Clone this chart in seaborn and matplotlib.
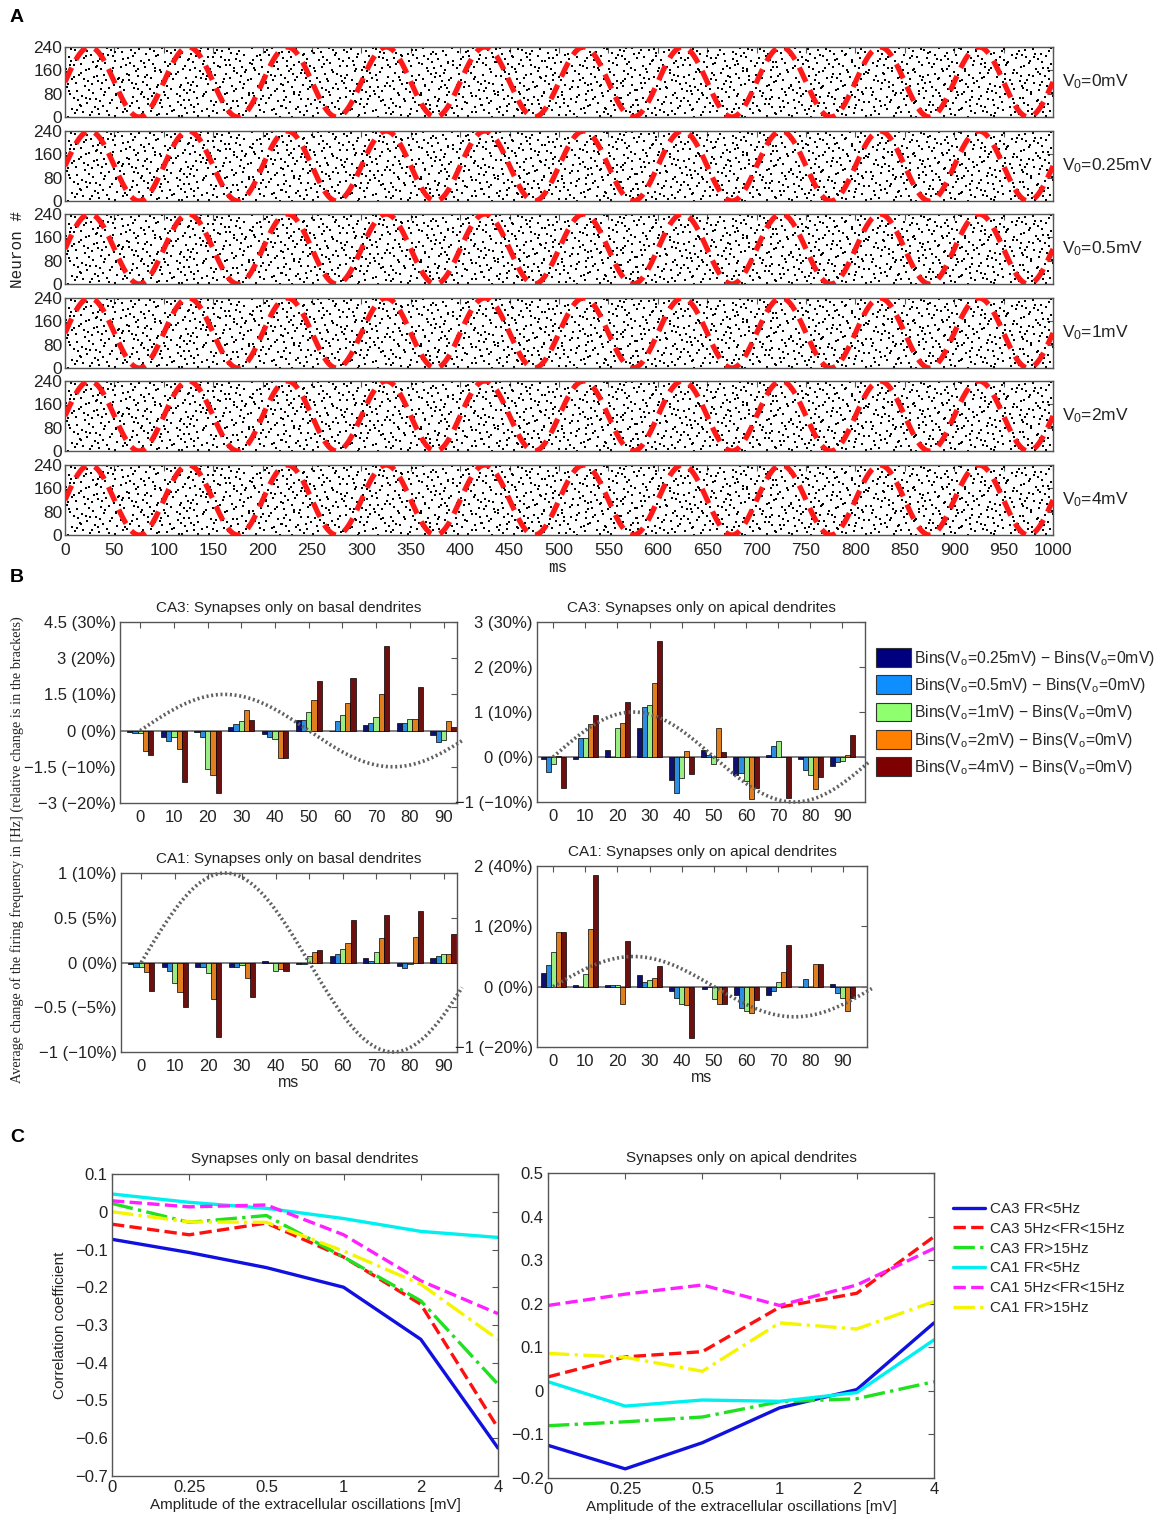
import numpy as np
import pandas as pd
import matplotlib
matplotlib.use("Agg")
import matplotlib.pyplot as plt
import seaborn as sns
from matplotlib.patches import Patch
from matplotlib.lines import Line2D

# ---------------- data ----------------
# panel A
amplitudes_A = ["0", "0.25", "0.5", "1", "2", "4"]
osc_period_ms = 100.0      # red reference oscillation (10 Hz)
osc_center = 120.0
osc_amp = 120.0
n_spikes = 1750            # spike raster is illustrative only

# panel B: bin times and five difference series per subplot
bin_ms = [0, 10, 20, 30, 40, 50, 60, 70, 80, 90]
series_B = ["0.25", "0.5", "1", "2", "4"]

ca3_basal = {
    "0.25": [-0.07, -0.27, -0.07, 0.16, -0.16, 0.45, 0.0, 0.23, 0.31, -0.20],
    "0.5":  [-0.10, -0.44, -0.27, 0.27, -0.25, 0.45, 0.41, 0.31, 0.31, -0.48],
    "1":    [-0.10, -0.27, -1.61, 0.38, -0.34, 0.79, 0.64, 0.57, 0.48, -0.41],
    "2":    [-0.86, -0.75, -1.84, 0.86, -1.13, 1.25, 1.13, 1.50, 0.50, 0.41],
    "4":    [-1.02, -2.11, -2.59, 0.44, -1.13, 2.05, 2.18, 3.50, 1.80, 0.14],
}
ca3_apical = {
    "0.25": [-0.04, -0.04, 0.16, 0.64, -0.52, 0.16, -0.39, 0.04, -0.04, -0.20],
    "0.5":  [-0.34, 0.42, 0.0, 1.12, -0.81, 0.04, -0.35, 0.24, -0.28, -0.10],
    "1":    [-0.16, 0.42, 0.64, 1.15, -0.46, -0.15, -0.54, 0.36, -0.40, -0.08],
    "2":    [0.03, 0.74, 0.76, 1.65, 0.14, 0.65, -0.94, 0.0, -0.72, 0.04],
    "4":    [-0.68, 0.93, 1.23, 2.57, -0.37, 0.11, -0.68, -0.90, -0.45, 0.50],
}
ca1_basal = {
    "0.25": [-0.02, -0.05, -0.05, -0.05, 0.02, -0.02, 0.07, 0.05, -0.04, 0.05],
    "0.5":  [-0.05, -0.10, -0.05, -0.05, 0.0, -0.02, 0.10, 0.02, -0.06, 0.07],
    "1":    [-0.05, -0.23, -0.12, -0.03, -0.09, 0.07, 0.15, 0.12, -0.02, 0.09],
    "2":    [-0.11, -0.33, -0.41, -0.17, -0.07, 0.12, 0.22, 0.27, 0.28, 0.10],
    "4":    [-0.32, -0.50, -0.83, -0.38, -0.09, 0.14, 0.47, 0.53, 0.58, 0.32],
}
ca1_apical = {
    "0.25": [0.22, 0.03, 0.03, 0.19, -0.07, -0.04, -0.13, -0.14, 0.0, 0.04],
    "0.5":  [0.36, 0.0, 0.03, 0.07, -0.19, 0.0, -0.35, -0.07, 0.12, -0.11],
    "1":    [0.58, 0.21, 0.03, 0.11, -0.28, -0.20, -0.40, 0.07, 0.0, -0.18],
    "2":    [0.90, 0.95, -0.28, 0.15, -0.31, -0.28, -0.44, 0.25, 0.38, -0.40],
    "4":    [0.90, 1.85, 0.75, 0.34, -0.85, -0.28, -0.22, 0.69, 0.38, -0.18],
}
sine_amp_B = [1.5, 1.0, 1.0, 0.5]

ticks_ca3_basal = [-3, -1.5, 0, 1.5, 3, 4.5]
labels_ca3_basal = ["\u22123 (\u221220%)", "\u22121.5 (\u221210%)", "0 (0%)", "1.5 (10%)", "3 (20%)", "4.5 (30%)"]
ticks_ca3_apical = [-1, 0, 1, 2, 3]
labels_ca3_apical = ["\u22121 (\u221210%)", "0 (0%)", "1 (10%)", "2 (20%)", "3 (30%)"]
ticks_ca1_basal = [-1, -0.5, 0, 0.5, 1]
labels_ca1_basal = ["\u22121 (\u221210%)", "\u22120.5 (\u22125%)", "0 (0%)", "0.5 (5%)", "1 (10%)"]
ticks_ca1_apical = [-1, 0, 1, 2]
labels_ca1_apical = ["\u22121 (\u221220%)", "0 (0%)", "1 (20%)", "2 (40%)"]

# panel C
amp_labels = ["0", "0.25", "0.5", "1", "2", "4"]
groups_C = ["CA3 FR<5Hz", "CA3 5Hz<FR<15Hz", "CA3 FR>15Hz",
            "CA1 FR<5Hz", "CA1 5Hz<FR<15Hz", "CA1 FR>15Hz"]
basal_C = [
    [-0.073, -0.108, -0.148, -0.200, -0.338, -0.626],
    [-0.033, -0.061, -0.030, -0.120, -0.245, -0.573],
    [0.022, -0.028, -0.010, -0.120, -0.236, -0.457],
    [0.047, 0.025, 0.009, -0.018, -0.052, -0.068],
    [0.029, 0.013, 0.018, -0.061, -0.183, -0.270],
    [0.000, -0.027, -0.028, -0.104, -0.192, -0.338],
]
apical_C = [
    [-0.125, -0.179, -0.119, -0.039, 0.003, 0.156],
    [0.032, 0.078, 0.090, 0.192, 0.224, 0.354],
    [-0.080, -0.071, -0.060, -0.025, -0.018, 0.021],
    [0.021, -0.035, -0.021, -0.024, -0.004, 0.117],
    [0.196, 0.222, 0.243, 0.196, 0.243, 0.327],
    [0.086, 0.077, 0.045, 0.156, 0.142, 0.205],
]

# ---------------- style ----------------
sns.set_theme(style="white")
plt.rcParams["font.family"] = ["Liberation Sans", "DejaVu Sans"]
plt.rcParams["mathtext.fontset"] = "custom"
plt.rcParams["mathtext.rm"] = "Liberation Sans"
plt.rcParams["mathtext.it"] = "Liberation Sans"
plt.rcParams["axes.edgecolor"] = "#555555"
plt.rcParams["axes.linewidth"] = 1.0
plt.rcParams["xtick.color"] = "#555555"
plt.rcParams["ytick.color"] = "#555555"
plt.rcParams["xtick.labelcolor"] = "#222222"
plt.rcParams["ytick.labelcolor"] = "#222222"

jet5 = ["#00007f", "#0f8fff", "#8fff70", "#ff7f00", "#7f0000"]
line_colors = ["#1010e0", "#ff1010", "#20e020", "#00f0f0", "#ff20ff", "#f5f500"]
line_styles = ["-", "--", "-.", "-", "--", "-."]

W, H = 1158, 1515
fig = plt.figure(figsize=(W / 100, H / 100), dpi=100)
fig.patch.set_facecolor("white")


def add_ax(l, t, r, b):
    return fig.add_axes([l / W, 1 - b / H, (r - l) / W, (b - t) / H])


def matlab_ticks(ax, size=12):
    ax.tick_params(direction="in", top=True, right=True, length=4, width=0.8,
                   labelsize=size, pad=3)


def halton(n, base, leap=409, skip=37):
    # leaped Halton sequence: scattered, deterministic spike positions
    out = np.zeros(n)
    for i in range(n):
        f, r, k = 1.0, 0.0, skip + i * leap
        while k > 0:
            f /= base
            r += f * (k % base)
            k //= base
        out[i] = r
    return out


# ---------------- panel A ----------------
spike_t = halton(n_spikes, 2) * 1000
spike_n = halton(n_spikes, 3) * 240
t_osc = np.linspace(0, 1000, 2001)
y_osc = osc_center + osc_amp * np.sin(2 * np.pi * t_osc / osc_period_ms)

row_tops = [47, 131, 214, 298, 381, 465]
for i, top in enumerate(row_tops):
    ax = add_ax(65, top, 1053, top + 70)
    sns.scatterplot(x=spike_t, y=spike_n, ax=ax, s=4.5, marker="s",
                    color="black", linewidth=0, zorder=2)
    ax.plot(t_osc, y_osc, color="#ff1a1a", lw=3.8, dashes=(3.0, 1.7), zorder=3)
    ax.set_xlim(0, 1000)
    ax.set_ylim(0, 240)
    ax.set_yticks([0, 80, 160, 240])
    ax.set_xticks(np.arange(0, 1001, 50))
    matlab_ticks(ax, 12.5)
    ax.tick_params(axis="y", pad=2)
    ax.tick_params(axis="x", pad=6)
    if i < 5:
        ax.set_xticklabels([])
    ax.set_xlabel("")
    ax.set_ylabel("")
    fig.text(1062 / W, 1 - (top + 35) / H, r"V$_0$=" + amplitudes_A[i] + "mV",
             fontsize=12.5, va="center", ha="left", color="#222222")

fig.text(18 / W, 1 - 250 / H, "Neuron #", rotation=90, va="center", ha="center",
         fontsize=11.5, family="Liberation Mono", color="#222222")
fig.text(558 / W, 1 - 567 / H, "ms", va="center", ha="center",
         fontsize=11.5, family="Liberation Mono", color="#222222")

# ---------------- panel B ----------------
panels_B = [
    ("CA3: Synapses only on basal dendrites", ca3_basal, (120, 622, 457, 803),
     (-6, 94), ticks_ca3_basal, labels_ca3_basal, False),
    ("CA3: Synapses only on apical dendrites", ca3_apical, (537, 622, 865, 802),
     (-5, 97), ticks_ca3_apical, labels_ca3_apical, False),
    ("CA1: Synapses only on basal dendrites", ca1_basal, (121, 873, 457, 1052),
     (-6, 94), ticks_ca1_basal, labels_ca1_basal, True),
    ("CA1: Synapses only on apical dendrites", ca1_apical, (537, 866, 867, 1047),
     (-5, 97.5), ticks_ca1_apical, labels_ca1_apical, True),
]

for k, (title, data, box, xlim, yt, yl, show_ms) in enumerate(panels_B):
    ax = add_ax(*box)
    rows = []
    for s in series_B:
        for t, v in zip(bin_ms, data[s]):
            rows.append({"t": t, "val": v, "series": s})
    df = pd.DataFrame(rows)
    ax.axhline(0, color="#777777", lw=1.3, zorder=1)
    sns.barplot(data=df, x="t", y="val", hue="series", hue_order=series_B,
                native_scale=True, palette=jet5, width=0.78, edgecolor="black",
                linewidth=0.5, errorbar=None, ax=ax, legend=False, zorder=2)
    xs = np.linspace(0, xlim[1] + 1.5, 400)
    ax.plot(xs, sine_amp_B[k] * np.sin(2 * np.pi * xs / 100.0), color="#606060",
            lw=2.6, linestyle=(0, (0.55, 0.75)), clip_on=False, zorder=3)
    ax.set_xlim(*xlim)
    ax.set_ylim(yt[0], yt[-1])
    ax.set_xticks(bin_ms)
    ax.set_xticklabels([str(b) for b in bin_ms])
    ax.set_yticks(yt)
    ax.set_yticklabels(yl)
    matlab_ticks(ax, 12)
    ax.tick_params(axis="x", pad=5)
    ax.set_title(title, fontsize=11, pad=7, color="#222222")
    ax.set_xlabel("ms" if show_ms else "", fontsize=11.5, labelpad=1, color="#222222")
    ax.set_ylabel("")

fig.text(17 / W, 1 - 850 / H,
         "Average change of the firing frequency in [Hz] (relative change is in the brackets)",
         rotation=90, va="center", ha="center", fontsize=10.3,
         family="Liberation Serif", color="#222222")

legend_B = [Patch(facecolor=c, edgecolor="#333333", linewidth=0.8) for c in jet5]
labels_B = [r"Bins(V$_\mathrm{o}$=" + s + r"mV) $-$ Bins(V$_\mathrm{o}$=0mV)" for s in series_B]
fig.legend(legend_B, labels_B, loc="upper left", bbox_to_anchor=(876 / W, 1 - 648 / H),
           frameon=False, fontsize=11.3, handlelength=2.2, handleheight=1.45,
           labelspacing=0.5, handletextpad=0.25, borderaxespad=0, borderpad=0)

# ---------------- panel C ----------------
pos = np.arange(len(amp_labels))
panels_C = [
    ("Synapses only on basal dendrites", basal_C, (112, 1174, 498, 1476),
     np.round(np.arange(-0.7, 0.11, 0.1), 1)),
    ("Synapses only on apical dendrites", apical_C, (548, 1173, 934, 1478),
     np.round(np.arange(-0.2, 0.51, 0.1), 1)),
]
for j, (title, data, box, yt) in enumerate(panels_C):
    ax = add_ax(*box)
    for g, vals in enumerate(data):
        sns.lineplot(x=pos, y=vals, ax=ax, color=line_colors[g],
                     linestyle=line_styles[g], linewidth=2.4)
    ax.set_xlim(0, 5)
    ax.set_ylim(yt[0], yt[-1])
    ax.set_xticks(pos)
    ax.set_xticklabels(amp_labels)
    ax.set_yticks(yt)
    ax.set_yticklabels(["0" if v == 0 else f"{v:g}".replace("-", "\u2212") for v in yt])
    matlab_ticks(ax, 12)
    ax.set_title(title, fontsize=11, pad=8, color="#222222")
    ax.set_xlabel("Amplitude of the extracellular oscillations [mV]", fontsize=11,
                  labelpad=2, color="#222222")
    ax.set_ylabel("Correlation coefficient" if j == 0 else "", fontsize=11,
                  labelpad=6, color="#222222")

legend_C = [Line2D([0], [0], color=line_colors[g], linestyle=line_styles[g], lw=2.4)
            for g in range(6)]
fig.legend(legend_C, groups_C, loc="upper left", bbox_to_anchor=(953 / W, 1 - 1202 / H),
           frameon=False, fontsize=11, handlelength=2.1, labelspacing=0.38,
           handletextpad=0.3, borderaxespad=0, borderpad=0)

# panel letters
for letter, x, y in [("A", 10, 18), ("B", 10, 577), ("C", 10, 1137)]:
    fig.text(x / W, 1 - y / H, letter, fontsize=14, fontweight="bold",
             va="center", ha="left", color="black")

fig.savefig("out.png", dpi=100)
